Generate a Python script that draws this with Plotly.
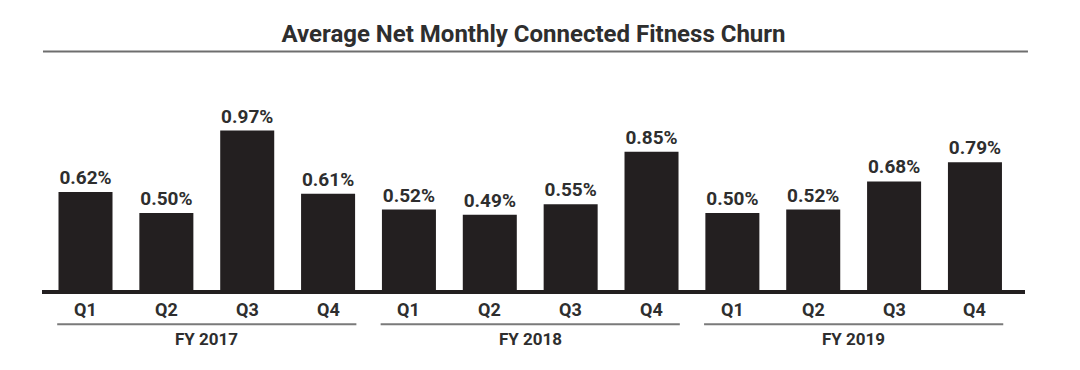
import plotly.graph_objects as go

quarters = ["Q1", "Q2", "Q3", "Q4"] * 3
years = ["FY 2017", "FY 2018", "FY 2019"]
churn = [0.62, 0.50, 0.97, 0.61, 0.52, 0.49, 0.55, 0.85, 0.50, 0.52, 0.68, 0.79]

title = "Average Net Monthly Connected Fitness Churn"
BAR = "#231f20"
TXT = "#2e2e2e"
FONT = "Roboto"

idx = list(range(len(churn)))

fig = go.Figure()
fig.add_trace(go.Bar(
    x=idx, y=churn,
    marker=dict(color=BAR, line=dict(width=0)),
    texttemplate="%{y:.2f}%",
    textposition="outside",
    constraintext="none",
    cliponaxis=False,
    textfont=dict(family=FONT, size=19, color=TXT, weight=700),
    width=0.668,
    hoverinfo="skip",
))

annotations = []
shapes = []
# quarter labels
for i, q in zip(idx, quarters):
    annotations.append(dict(x=i, y=-0.0764, xref="x", yref="paper", text=q,
                            showarrow=False, yanchor="middle",
                            font=dict(family=FONT, size=18, color=TXT, weight=700)))
# group underlines + year labels
for g, yr in enumerate(years):
    first, last = g * 4, g * 4 + 3
    shapes.append(dict(type="line", xref="x", yref="paper",
                       x0=first - 0.35, x1=last + 0.35, y0=-0.141, y1=-0.141,
                       line=dict(color="#7a7a7a", width=2)))
    annotations.append(dict(x=(first + last) / 2, y=-0.205, xref="x", yref="paper",
                            text=yr, showarrow=False, yanchor="middle",
                            font=dict(family=FONT, size=17, color=TXT, weight=700)))
# baseline
shapes.append(dict(type="line", xref="paper", yref="paper", x0=0, x1=1, y0=0, y1=0,
                   line=dict(color=BAR, width=4), layer="above"))
# title underline
shapes.append(dict(type="line", xref="paper", yref="paper", x0=0.001, x1=1.003, y0=1.050, y1=1.050,
                   line=dict(color="#6e6e6e", width=2)))

fig.update_layout(
    width=1064, height=354,
    margin=dict(l=34, r=47, t=55, b=70),
    paper_bgcolor="white", plot_bgcolor="white",
    showlegend=False,
    title=dict(text=title, x=0.5, xref="paper", xanchor="center",
               y=0.929, yref="container", yanchor="middle",
               font=dict(family=FONT, size=24, color="#2e2e2e", weight=700)),
    xaxis=dict(range=[-0.538, 11.619], showticklabels=False, showgrid=False,
               zeroline=False, showline=False, ticks=""),
    yaxis=dict(range=[0.0502, 1.355], visible=False, showgrid=False, zeroline=False),
    annotations=annotations,
    shapes=shapes,
    bargap=0.332,
)

fig.write_html("out.html")
